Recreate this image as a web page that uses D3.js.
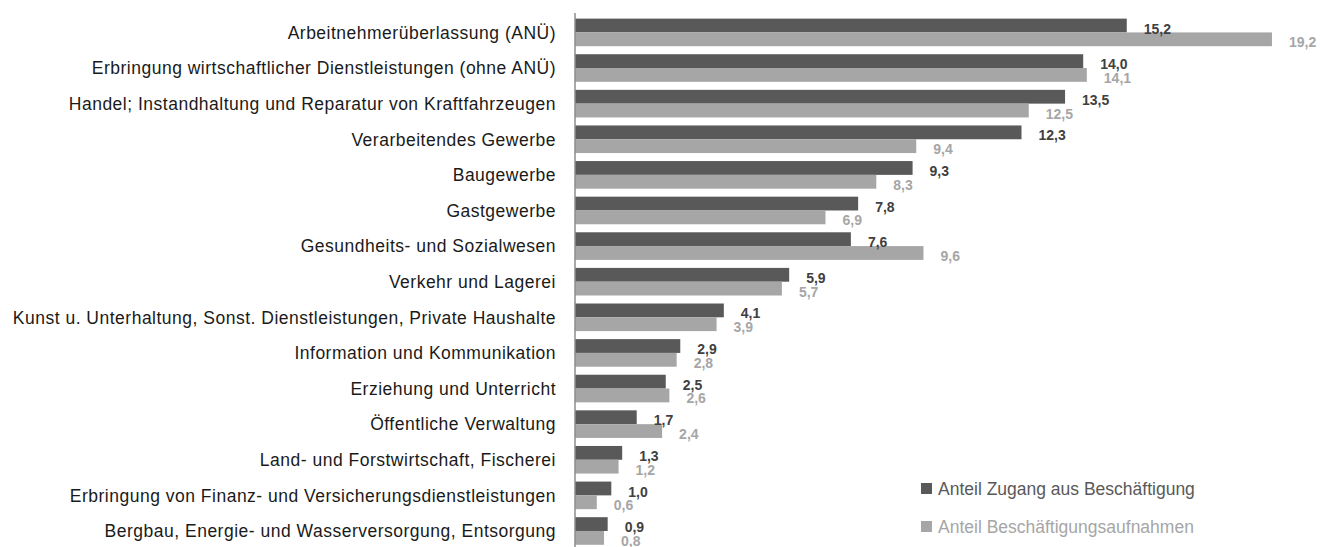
<!DOCTYPE html>
<html>
<head>
<meta charset="utf-8">
<script src="https://cdn.jsdelivr.net/npm/d3@7"></script>
<style>
    body { margin: 0; background: #fff; }
    svg { display: block; font-family: Arial, "Liberation Sans", sans-serif; }
</style>
</head>
<body>
<svg width="1320" height="547"></svg>
<script>
"use strict";

var categories = [
    "Arbeitnehmerüberlassung (ANÜ)",
    "Erbringung wirtschaftlicher Dienstleistungen (ohne ANÜ)",
    "Handel; Instandhaltung und Reparatur von Kraftfahrzeugen",
    "Verarbeitendes Gewerbe",
    "Baugewerbe",
    "Gastgewerbe",
    "Gesundheits- und Sozialwesen",
    "Verkehr und Lagerei",
    "Kunst u. Unterhaltung, Sonst. Dienstleistungen, Private Haushalte",
    "Information und Kommunikation",
    "Erziehung und Unterricht",
    "Öffentliche Verwaltung",
    "Land- und Forstwirtschaft, Fischerei",
    "Erbringung von Finanz- und Versicherungsdienstleistungen",
    "Bergbau, Energie- und Wasserversorgung, Entsorgung"
];

var series = ["Anteil Zugang aus Beschäftigung", "Anteil Beschäftigungsaufnahmen"];

var zugang = [15.2, 14.0, 13.5, 12.3, 9.3, 7.8, 7.6, 5.9, 4.1, 2.9, 2.5, 1.7, 1.3, 1.0, 0.9];
var aufnahmen = [19.2, 14.1, 12.5, 9.4, 8.3, 6.9, 9.6, 5.7, 3.9, 2.8, 2.6, 2.4, 1.2, 0.6, 0.8];

var barColors = ["#595959", "#a6a6a6"];
var labelColors = ["#404040", "#a6a6a6"];

var svg = d3.select("svg");
var values = [zugang, aufnahmen];

var rows = categories.map(function(c, i) {
    return {name: c, vals: series.map(function(s, k) { return {series: s, k: k, value: values[k][i]}; })};
});

var x = d3.scaleLinear().domain([0, 20]).range([575, 1301]);
var y = d3.scaleBand().domain(categories).range([14.7, 548.7]).paddingInner(0.225).paddingOuter(0.11);
var ySub = d3.scaleBand().domain(series).range([0, y.bandwidth()]);

var fmt = function(v) { return d3.format(".1f")(v).replace(".", ","); };

var groups = svg.selectAll(".row").data(rows).enter().append("g")
    .attr("class", "row")
    .attr("transform", function(d) { return "translate(0," + y(d.name) + ")"; });

groups.selectAll("rect").data(function(d) { return d.vals; }).enter().append("rect")
    .attr("x", x(0))
    .attr("y", function(d) { return ySub(d.series); })
    .attr("width", function(d) { return x(d.value) - x(0); })
    .attr("height", ySub.bandwidth())
    .attr("fill", function(d) { return barColors[d.k]; });

groups.selectAll(".val").data(function(d) { return d.vals; }).enter().append("text")
    .attr("class", "val")
    .attr("x", function(d) { return x(d.value) + 17; })
    .attr("y", function(d) { return ySub(d.series) + ySub.bandwidth() / 2 + 3; })
    .attr("dy", "0.36em")
    .style("font-size", "14px")
    .style("font-weight", "bold")
    .attr("fill", function(d) { return labelColors[d.k]; })
    .text(function(d) { return fmt(d.value); });

// category labels
groups.append("text")
    .attr("x", 556)
    .attr("y", y.bandwidth() / 2)
    .attr("dy", "0.36em")
    .style("text-anchor", "end")
    .style("font-size", "17.5px")
    .style("letter-spacing", "0.5px")
    .attr("fill", "#1a1a1a")
    .text(function(d) { return d.name; });

// axis line
svg.append("line")
    .attr("x1", x(0)).attr("x2", x(0))
    .attr("y1", 13).attr("y2", 547)
    .attr("stroke", "#8c8c8c")
    .attr("stroke-width", 1.5);

// legend
var legend = svg.selectAll(".legend").data(series).enter().append("g")
    .attr("class", "legend")
    .attr("transform", function(d, i) { return "translate(921," + (483 + i * 38) + ")"; });

legend.append("rect")
    .attr("width", 11).attr("height", 11)
    .attr("fill", function(d, i) { return barColors[i]; });

legend.append("text")
    .attr("x", 17)
    .attr("y", 12)
    .style("font-size", "17.5px")
    .attr("fill", function(d, i) { return barColors[i]; })
    .text(function(d) { return d; });
</script>
</body>
</html>
